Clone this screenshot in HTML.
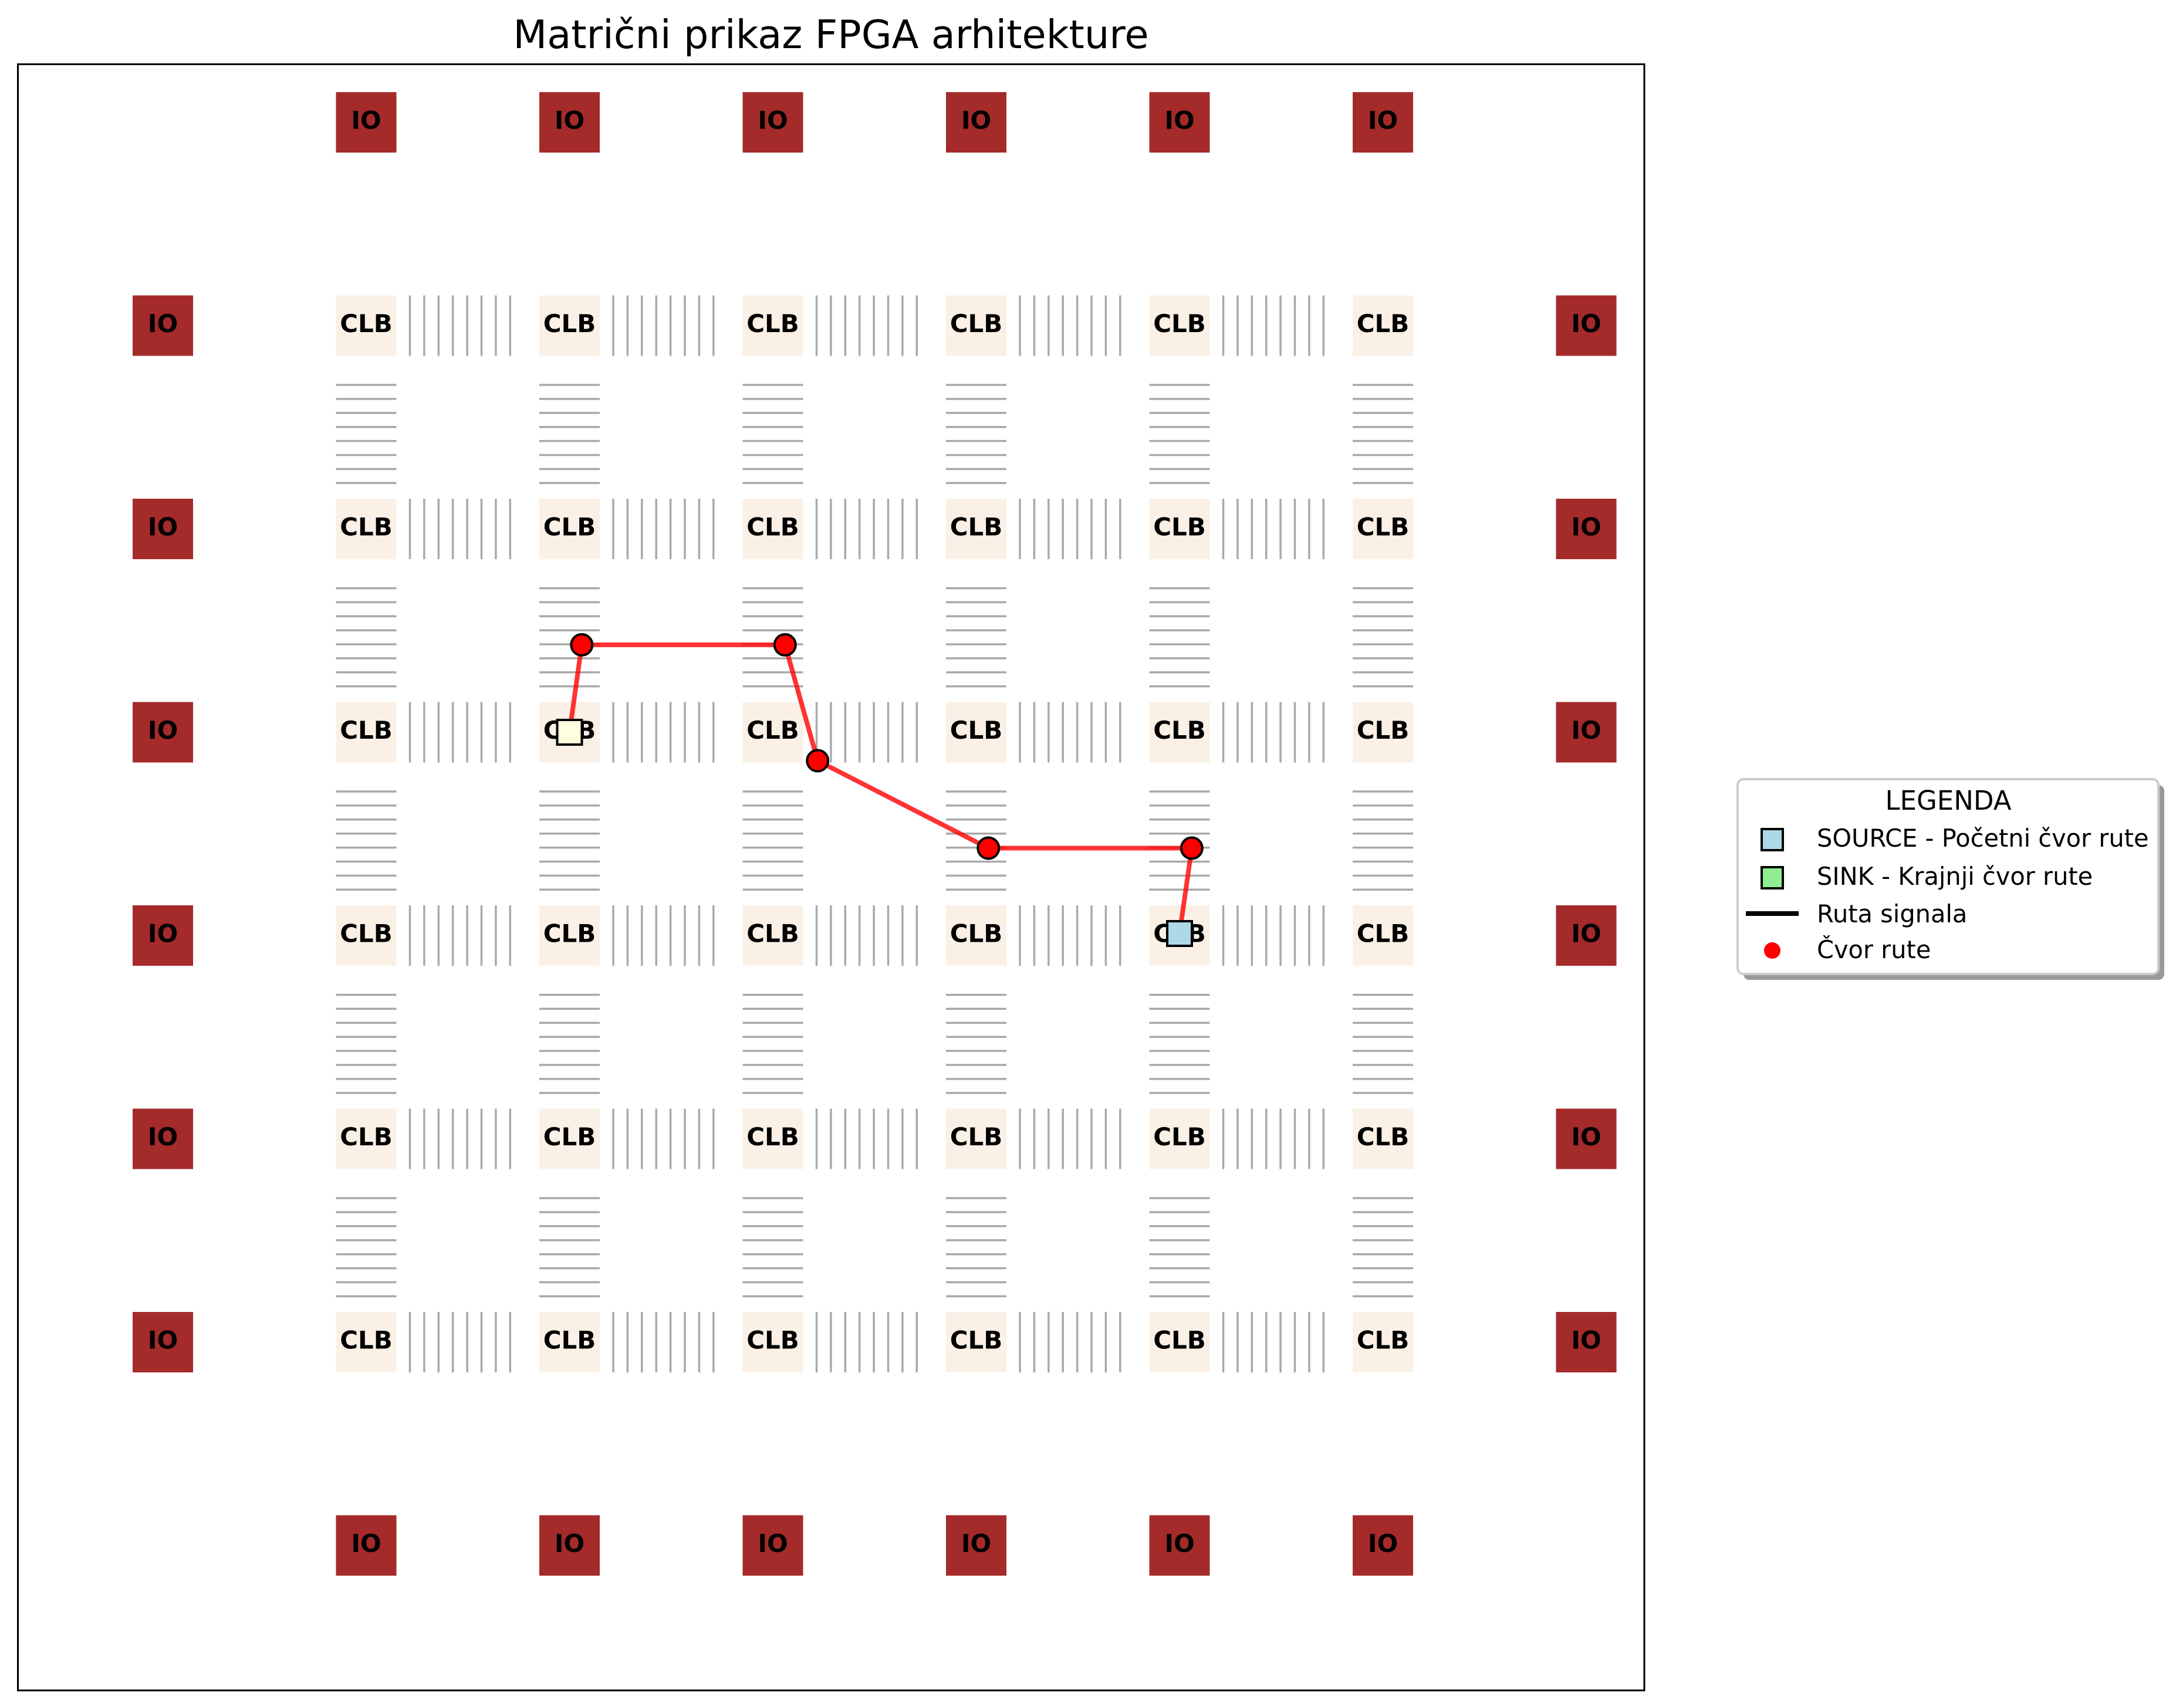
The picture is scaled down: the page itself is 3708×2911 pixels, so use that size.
<!DOCTYPE html>
<html><head><meta charset="utf-8">
<style>html,body{margin:0;padding:0;background:#fff}svg{display:block}</style></head>
<body>
<svg id="chart" xmlns="http://www.w3.org/2000/svg" width="3708" height="2911" viewBox="0 0 3708 2911" font-family="'DejaVu Sans','Liberation Sans',sans-serif">
<rect width="3708" height="2911" fill="#fff"/>
<text x="1416" y="82" font-size="67" text-anchor="middle" fill="#000">Matrični prikaz FPGA arhitekture</text>
<g id="plot"></g>
<rect x="30.5" y="109.5" width="2771.5" height="2771.5" fill="none" stroke="#000" stroke-width="3"/>
<g>
<rect x="2971" y="1338" width="717" height="332" rx="10" fill="#999"/>
<rect x="2961" y="1328" width="717" height="332" rx="10" fill="#fff" stroke="#ccc" stroke-width="4"/>
<text x="3320" y="1380" font-size="45" text-anchor="middle">LEGENDA</text>
<g><rect x="3002" y="1413" width="36" height="36" fill="#add8e6" stroke="#000" stroke-width="4"/><text x="3096" y="1443" font-size="41.5">SOURCE - Početni čvor rute</text></g>
<g><rect x="3002" y="1478" width="36" height="36" fill="#90ee90" stroke="#000" stroke-width="4"/><text x="3096" y="1508" font-size="41.5">SINK - Krajnji čvor rute</text></g>
<g><line x1="2975" y1="1557" x2="3065" y2="1557" stroke="#000" stroke-width="8"/><text x="3096" y="1572" font-size="41.5">Ruta signala</text></g>
<g><circle cx="3020" cy="1620" r="14" fill="#f00"/><text x="3096" y="1633" font-size="41.5">Čvor rute</text></g>
</g>
</svg>
<script>
// grid data (units)
var ioTopCols = [1,2,3,4,5,6];
var ioSideRows = [1,2,3,4,5,6];
var clbCols = [1,2,3,4,5,6];
var clbRows = [1,2,3,4,5,6];
// route data (units)
var routeX = [5.0, 5.06, 4.06, 3.22, 3.06, 2.06, 2.0];
var routeY = [3.99, 3.57, 3.57, 3.14, 2.57, 2.57, 3.0];
var nodeX = [5.06, 4.06, 3.22, 3.06, 2.06];
var nodeY = [3.57, 3.57, 3.14, 2.57, 2.57];
var sourceX = [5.0]; var sourceY = [3.99];
var sinkX = [2.0]; var sinkY = [3.0];

var NS = 'http://www.w3.org/2000/svg';
var U = 346.5;
function xPx(u){ return 277.5 + U*u; }
function yPx(v){ return 208.5 + U*v; }
var plot = document.getElementById('plot');
function mk(tag, attrs){ var e=document.createElementNS(NS,tag); for(var k in attrs) e.setAttribute(k,attrs[k]); plot.appendChild(e); return e; }
var H = 51.5;

clbRows.forEach(function(r){
  clbCols.forEach(function(c){
    if (c < 6) {
      for (var i=0;i<8;i++){
        var lx = xPx(c) + 74.5 + i*24.4;
        var l = mk('line',{x1:lx,y1:yPx(r)-H,x2:lx,y2:yPx(r)+H,stroke:'#a9a9a9','stroke-width':3.5});
        
        
      }
    }
    if (r < 6) {
      for (var j=0;j<8;j++){
        var ly = yPx(r) + 101 + j*23.9;
        var h = mk('line',{x1:xPx(c)-H,y1:ly,x2:xPx(c)+H,y2:ly,stroke:'#a9a9a9','stroke-width':3.5});
        
        
      }
    }
  });
});

function block(cx, cy, fill, label, name){
  var r = mk('rect',{x:cx-H,y:cy-H,width:2*H,height:2*H,fill:fill});
  
  
  var t = mk('text',{x:cx,y:cy+11,'font-size':42,'font-weight':'bold','text-anchor':'middle',fill:'#000'});
  t.textContent = label;
  
  
}
ioTopCols.forEach(function(c){ block(xPx(c), yPx(0), '#a52a2a', 'IO', 'io-block-top'); block(xPx(c), yPx(7), '#a52a2a', 'IO', 'io-block-bottom'); });
ioSideRows.forEach(function(r){ block(xPx(0), yPx(r), '#a52a2a', 'IO', 'io-block-left'); block(xPx(7), yPx(r), '#a52a2a', 'IO', 'io-block-right'); });
clbRows.forEach(function(r){ clbCols.forEach(function(c){ block(xPx(c), yPx(r), '#faf0e6', 'CLB', 'clb-block'); }); });

var pts = routeX.map(function(x,i){ return xPx(x)+','+yPx(routeY[i]); }).join(' ');
var pl = mk('polyline',{points:pts,fill:'none',stroke:'#ff0000','stroke-opacity':0.8,'stroke-width':8,'stroke-linejoin':'round'});


nodeX.forEach(function(x,i){
  var c = mk('circle',{cx:xPx(x),cy:yPx(nodeY[i]),r:18,fill:'#f00',stroke:'#000','stroke-width':4});
  
  
});
sourceX.forEach(function(x,i){
  var s = mk('rect',{x:xPx(x)-21,y:yPx(sourceY[i])-21,width:42,height:42,fill:'#add8e6',stroke:'#000','stroke-width':4});
  
  
});
sinkX.forEach(function(x,i){
  var s = mk('rect',{x:xPx(x)-21,y:yPx(sinkY[i])-21,width:42,height:42,fill:'#ffffe0',stroke:'#000','stroke-width':4});
  
  
});
</script>
</body></html>
